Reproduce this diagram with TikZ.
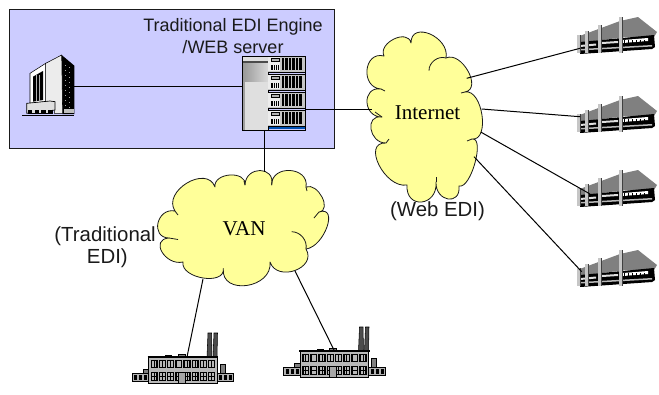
\documentclass[tikz,border=0pt]{standalone}
\usepackage{fontspec}
\usetikzlibrary{calc}
\setmainfont{Liberation Sans}
\newfontfamily\cloudfont{Liberation Serif}
\definecolor{panelblue}{HTML}{CCCCFF}
\definecolor{cloudyellow}{HTML}{FFFF99}
\definecolor{roofgrey}{HTML}{808080}
\definecolor{ink}{HTML}{1A1A1A}
\newcommand\lb[3]{.. controls ($0.3933*#1+1.3333*#3-0.7267*#2$) and ($0.3933*#2+1.3333*#3-0.7267*#1$) .. #2}
\tikzset{
  link/.style={draw=black,line width=0.75pt},
  cloudline/.style={draw=ink,line width=0.6pt,fill=cloudyellow,line join=round},
  cloudtail/.style={draw=ink,line width=0.6pt},
  sanslabel/.style={font=\fontsize{13.5pt}{16.6pt}\selectfont,text=ink,align=center,inner sep=0pt},
  sidelabel/.style={font=\fontsize{15.3pt}{17pt}\selectfont,text=ink,inner sep=0pt},
  cloudlabel/.style={font=\cloudfont\fontsize{15.8pt}{18pt}\selectfont,text=black,inner sep=0pt},
  wingbldg/.pic={
    \fill[roofgrey] (1,20)--(44,4)--(62,0)--(81,15)--(78,20)--(50,20)--(1,26)--cycle;
    \fill[black] (4,25)--(78,18)--(79,30)--(76,32)--(4,37)--cycle;
    \fill[gray!25] (4,28)--(20,26.5)--(20,28.5)--(4,30)--cycle;
    \fill[gray!25] (26,25)--(42,24)--(42,26)--(26,27)--cycle;
    \fill[white] (47,23)--(72,21)--(72,24)--(47,26)--cycle;
    \foreach \a in {48,52,...,70} {\draw[black,line width=0.4pt] (\a,23)--(\a,26);}
    \fill[gray!55] (4,32)--(76,28)--(76,29.5)--(4,33.5)--cycle;
    \foreach \a/\b in {44.7/0,23.3/8,10.7/14,2.3/18} {
      \fill[gray!45] (\a-1.6,\b)rectangle(\a+1.6,36);
      \draw[black!75,line width=0.35pt] (\a+1.6,\b)--(\a+1.6,36);
    }
  },
  factorybldg/.pic={
    \fill[gray!60!black,draw=black,line width=0.4pt] (76,0)--(79.5,0)--(80,24)--(75,24)--cycle;
    \fill[gray!60!black,draw=black,line width=0.4pt] (82,0)--(85.5,0)--(85,24)--(81,24)--cycle;
    \fill[gray,draw=black,line width=0.4pt] (88,31)rectangle(93,40);
    \fill[gray,draw=black,line width=0.4pt] (11,36)rectangle(17,40);
    \fill[gray,draw=black,line width=0.4pt] (33.5,22)rectangle(39.5,24);
    \fill[gray,draw=black,line width=0.4pt] (46,21)rectangle(53,24);
    \foreach \x in {0,85} {
      \fill[gray!60,draw=black,line width=0.5pt] (\x,40)rectangle(\x+16.7,48);
      \foreach \k in {0,1,2} {\fill[black] (\x+2+\k*5,42)rectangle(\x+5.4+\k*5,47);}
    }
    \fill[gray!55,draw=black,line width=0.7pt] (16.7,24.5)rectangle(85,50);
    \draw[black,line width=1.1pt] (15.5,24)--(86,24);
    \foreach \k in {0,...,7} {
      \fill[black] (18.5+\k*8.2,27)rectangle(25.7+\k*8.2,35);
      \fill[gray!55] (20+\k*8.2,28.2)rectangle(21.9+\k*8.2,30.5);
      \fill[gray!55] (22.7+\k*8.2,28.2)rectangle(24.4+\k*8.2,30.5);
      \fill[gray!55] (20+\k*8.2,31.4)rectangle(21.9+\k*8.2,34);
      \fill[gray!55] (22.7+\k*8.2,31.4)rectangle(24.4+\k*8.2,34);
      \fill[black] (18.5+\k*8.2,39)rectangle(25.7+\k*8.2,48);
      \fill[gray!55] (20+\k*8.2,40.2)rectangle(21.9+\k*8.2,43);
      \fill[gray!55] (22.7+\k*8.2,40.2)rectangle(24.4+\k*8.2,43);
      \fill[gray!55] (20+\k*8.2,44)rectangle(21.9+\k*8.2,47);
      \fill[gray!55] (22.7+\k*8.2,44)rectangle(24.4+\k*8.2,47);
    }
    \fill[gray!70,draw=black,line width=0.6pt] (46,39)rectangle(53,50);
  },
  towerbldg/.pic={
    \begin{scope}[scale=1/3]
      \fill[black] (22,209)rectangle(178,212);
      \fill[black] (140,30)--(178,62)--(178,207)--(142,207)--cycle;
      \foreach \k in {60,75,...,190} {
        \fill[gray!70] (150,\k)rectangle(153,\k+3);
        \fill[gray!70] (163,\k+5)rectangle(166,\k+8);
      }
      \fill[gray!15,draw=black,line width=0.4pt] (92,55)--(140,30)--(143,205)--(118,205)--(118,170)--(92,170)--cycle;
      \fill[white,draw=black,line width=0.4pt] (45,85)--(92,55)--(92,170)--(45,175)--cycle;
      \fill[black] (54,95)--(84,78)--(84,165)--(54,170)--cycle;
      \foreach \a in {63,74} {\draw[gray!60,line width=0.5pt] (\a,90)--(\a,168);}
      \fill[gray!25,draw=black,line width=0.5pt] (35,175)--(105,168)--(120,170)--(120,195)--(35,205)--cycle;
      \fill[black] (40,195)rectangle(115,206);
      \foreach \a in {52,72,92} {\fill[gray!25] (\a,195)rectangle(\a+7,205);}
      \fill[gray!50] (146,192)rectangle(176,205);
    \end{scope}
  },
  rackunit/.pic={
    \fill[gray!45] (0,0)rectangle(36.7,16);
    \fill[white!85!gray] (0,1)rectangle(11.5,15);
    \fill[gray!60,draw=black,line width=0.3pt] (3,2.5)rectangle(11,5.5);
    \foreach \a in {3,5.2,...,11} {\fill[black] (\a,8.5)rectangle(\a+1.3,14);}
    \foreach \a in {13.5,17,...,34} {\fill[black] (\a,2)rectangle(\a+2.2,14);}
    \draw[black,line width=0.6pt] (0,16)--(36.7,16);
    \draw[black,line width=0.6pt] (0,0)--(36.7,0);
  }
}
\begin{document}
\begin{tikzpicture}[x=0.75pt,y=-0.75pt]
\useasboundingbox (0,0) rectangle (659,394);
\node[draw=ink,fill=panelblue,line width=0.75pt,minimum width=325.3*0.75pt,minimum height=139*0.75pt,inner sep=0pt,anchor=north west] (panel) at (9,9) {};

% named end points
\coordinate (towerE) at (74,86);
\coordinate (srvW) at (242,86);
\coordinate (srvE) at (305,109);
\coordinate (srvS) at (264.5,130);
\coordinate (inetW) at (372,109);
\coordinate (vanN) at (264.5,172);
\coordinate (vanSW) at (203,279);
\coordinate (vanSE) at (295,271);
\coordinate (inet1) at (466.7,78.3);
\coordinate (inet2) at (481.7,109);
\coordinate (inet3) at (480.7,132);
\coordinate (inet4) at (474,156.7);
\coordinate (wing1) at (580,48.3);
\coordinate (wing2) at (580,116.7);
\coordinate (wing3) at (590,194);
\coordinate (wing4) at (581.7,271.7);
\coordinate (fac1) at (187,357);
\coordinate (fac2) at (334,350);

% clouds
\draw[cloudline] (384,56)
  \lb{(384,56)}{(411,43)}{(394,39)}
  \lb{(411,43)}{(446,58)}{(430,34)}
  \lb{(446,58)}{(465,92)}{(468,71)}
  \lb{(465,92)}{(472,139)}{(482,115)}
  \lb{(472,139)}{(459,186)}{(475,163)}
  \lb{(459,186)}{(436,182)}{(448,199)}
  \lb{(436,182)}{(407,185)}{(421.7,202)}
  \lb{(407,185)}{(386,143)}{(379,165)}
  \lb{(386,143)}{(382,117)}{(371,129)}
  \lb{(382,117)}{(381,89)}{(367,102)}
  \lb{(381,89)}{(384,56)}{(367,70)} -- cycle;
\draw[cloudtail] (429,70.7) to[bend left=55] (446,58);
\draw[cloudtail] (381,89) -- (385,91);
\draw[cloudtail] (382,117) -- (375,112);
\draw[cloudtail] (386,143) -- (389,139);
\draw[cloudtail] (472,139) -- (467,141);
\draw[cloudtail] (465,92) -- (461,93);
\draw[cloudtail] (436,182) -- (436,177);

\draw[cloudline] (175,211)
  \lb{(175,211)}{(215,187)}{(187,183)}
  \lb{(215,187)}{(245,185)}{(230,175)}
  \lb{(245,185)}{(271.7,185)}{(260,170.5)}
  \lb{(271.7,185)}{(306,187)}{(290,170.5)}
  \lb{(306,187)}{(319,212)}{(322,197)}
  \lb{(319,212)}{(306,249)}{(327,227)}
  \lb{(306,249)}{(270,262)}{(295,270.5)}
  \lb{(270,262)}{(223.3,268.5)}{(246.7,285.5)}
  \lb{(223.3,268.5)}{(183,262)}{(203,278)}
  \lb{(183,262)}{(169,238)}{(162,252)}
  \lb{(169,238)}{(175,211)}{(158,223)} -- cycle;
\draw[cloudtail] (291.7,231.7) to[bend left=50] (306,249);
\draw[cloudtail] (169,238) -- (178,239.5);
\draw[cloudtail] (175,211) -- (178,215);
\draw[cloudtail] (319,212) -- (314,218);
\draw[cloudtail] (306,187) -- (307,191);
\draw[cloudtail] (245,185) -- (244,181);
\draw[cloudtail] (271.7,185) -- (272,180);

% buildings
\pic at (576,17) {wingbldg};
\pic at (576,96) {wingbldg};
\pic at (576,170) {wingbldg};
\pic at (576,250) {wingbldg};
\pic at (132,333) {factorybldg};
\pic at (283.5,327) {factorybldg};
\pic at (15,45) {towerbldg};

% server
\fill[gray!25,draw=black,line width=0.7pt] (242.3,56) rectangle (268.3,130);
\shade[left color=gray!80,right color=gray!30,middle color=gray!55] (243,62) rectangle (268,81.5);
\fill[black!70] (243,61)rectangle(268,62.5);
\fill[gray!75] (242.8,82)rectangle(244.5,129.5);
\pic at (268.3,56) {rackunit};
\pic at (268.3,74) {rackunit};
\pic at (268.3,92) {rackunit};
\pic at (268.3,110) {rackunit};
\fill[blue!55!cyan!70!black] (268.5,126.5) rectangle (305,129);
\draw[black,line width=0.6pt] (268.3,130) -- (305,130) -- (305,56);

% connectors
\draw[link] (towerE) -- (srvW);
\draw[link] (srvE) -- (inetW);
\draw[link] (srvS) -- (vanN);
\draw[link] (vanSW) -- (fac1);
\draw[link] (vanSE) -- (fac2);
\draw[link] (inet1) -- (wing1);
\draw[link] (inet2) -- (wing2);
\draw[link] (inet3) -- (wing3);
\draw[link] (inet4) -- (wing4);

% labels
\node[sanslabel] (title) at (233,36) {Traditional EDI Engine\\/WEB server};
\node[cloudlabel] (inetlabel) at (427.5,112.5) {Internet};
\node[cloudlabel] (vanlabel) at (244,228.5) {VAN};
\node[sidelabel] (webedi) at (437.5,211) {(Web EDI)};
\node[sidelabel,align=right,anchor=north east] (tradedi) at (156,226) {(Traditional\\EDI)\hspace*{21pt}};
\end{tikzpicture}
\end{document}
